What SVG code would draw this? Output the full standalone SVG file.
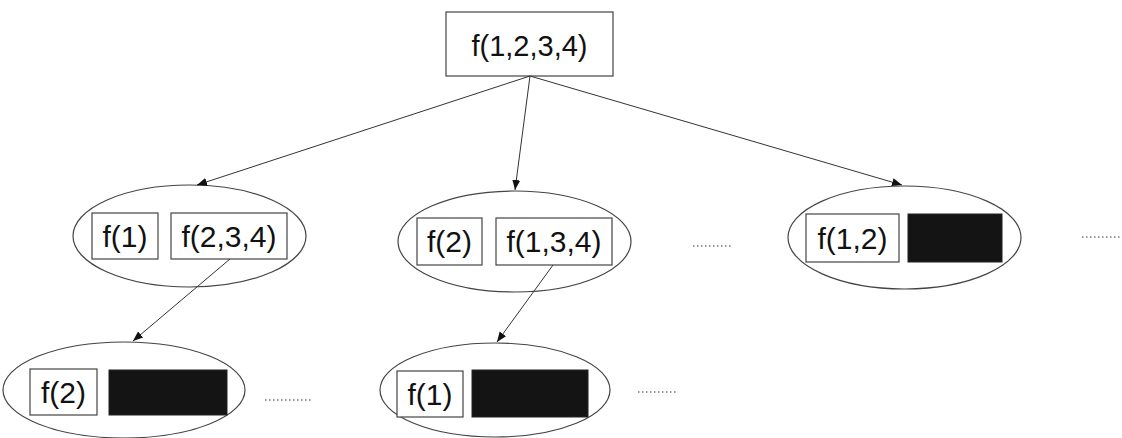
<svg xmlns="http://www.w3.org/2000/svg" width="1122" height="438" viewBox="0 0 1122 438">
<style>
.box{fill:#fff;stroke:#444;stroke-width:1.2}
.blk{fill:#141414;stroke:#222;stroke-width:1}
.ell{fill:#fff;stroke:#444;stroke-width:1.2}
.lbl{font-family:"Liberation Sans",Arial,sans-serif;font-size:30px;fill:#111;text-anchor:middle}
.top{font-size:29px}
.edge{stroke:#333;stroke-width:1;fill:none;marker-end:url(#arr)}
.dots{stroke:#777;stroke-width:1.5;stroke-dasharray:1.5 2.5}
</style>
<defs>
<marker id="arr" viewBox="0 0 10 10" refX="10" refY="5" markerWidth="10" markerHeight="10" markerUnits="userSpaceOnUse" orient="auto">
<path d="M0,1 L10,5 L0,9 Z" fill="#111"/>
</marker>
</defs>
<rect width="1122" height="438" fill="#fff"/>
<g id="root">
<rect class="box" x="446" y="12" width="167" height="64"/>
<text class="lbl top" x="529.5" y="56">f(1,2,3,4)</text>
</g>
<g id="mid-left">
<ellipse class="ell" cx="189.5" cy="236" rx="116.5" ry="51"/>
<rect class="box" x="92" y="213" width="66" height="46"/>
<text class="lbl" x="125" y="246.5">f(1)</text>
<rect class="box" x="171" y="213" width="116" height="46"/>
<text class="lbl" x="229" y="246.5">f(2,3,4)</text>
</g>
<g id="mid-center">
<ellipse class="ell" cx="514.5" cy="241.5" rx="116.5" ry="50.5"/>
<rect class="box" x="417" y="218" width="65" height="47"/>
<text class="lbl" x="449.5" y="252">f(2)</text>
<rect class="box" x="496" y="218" width="116" height="47"/>
<text class="lbl" x="554" y="252">f(1,3,4)</text>
</g>
<g id="mid-right">
<ellipse class="ell" cx="904.5" cy="237.5" rx="116.5" ry="51.5"/>
<rect class="box" x="806" y="214" width="93" height="48"/>
<text class="lbl" x="852.5" y="248.5">f(1,2)</text>
<rect class="blk" x="908" y="214" width="94" height="48"/>
</g>
<g id="bot-left">
<ellipse class="ell" cx="124" cy="390" rx="121" ry="48"/>
<rect class="box" x="30" y="369" width="67" height="46"/>
<text class="lbl" x="63.5" y="402.5">f(2)</text>
<rect class="blk" x="109" y="370" width="118" height="45"/>
</g>
<g id="bot-center">
<ellipse class="ell" cx="495" cy="390" rx="115" ry="47"/>
<rect class="box" x="397" y="371" width="66" height="46"/>
<text class="lbl" x="430" y="404.5">f(1)</text>
<rect class="blk" x="472" y="370" width="116" height="47"/>
</g>
<g id="ellipsis">
<line class="dots" x1="693" y1="246" x2="733" y2="246"/>
<line class="dots" x1="1082" y1="237" x2="1122" y2="237"/>
<line class="dots" x1="265" y1="400" x2="312" y2="400"/>
<line class="dots" x1="638" y1="392" x2="677" y2="392"/>
</g>
<g id="connectors">
<line class="edge" x1="530" y1="76" x2="197" y2="185"/>
<line class="edge" x1="530" y1="76" x2="515" y2="190"/>
<line class="edge" x1="530" y1="76" x2="902" y2="185"/>
<line class="edge" x1="230" y1="259" x2="133" y2="341"/>
<line class="edge" x1="553" y1="265" x2="497" y2="342"/>
</g>
</svg>
